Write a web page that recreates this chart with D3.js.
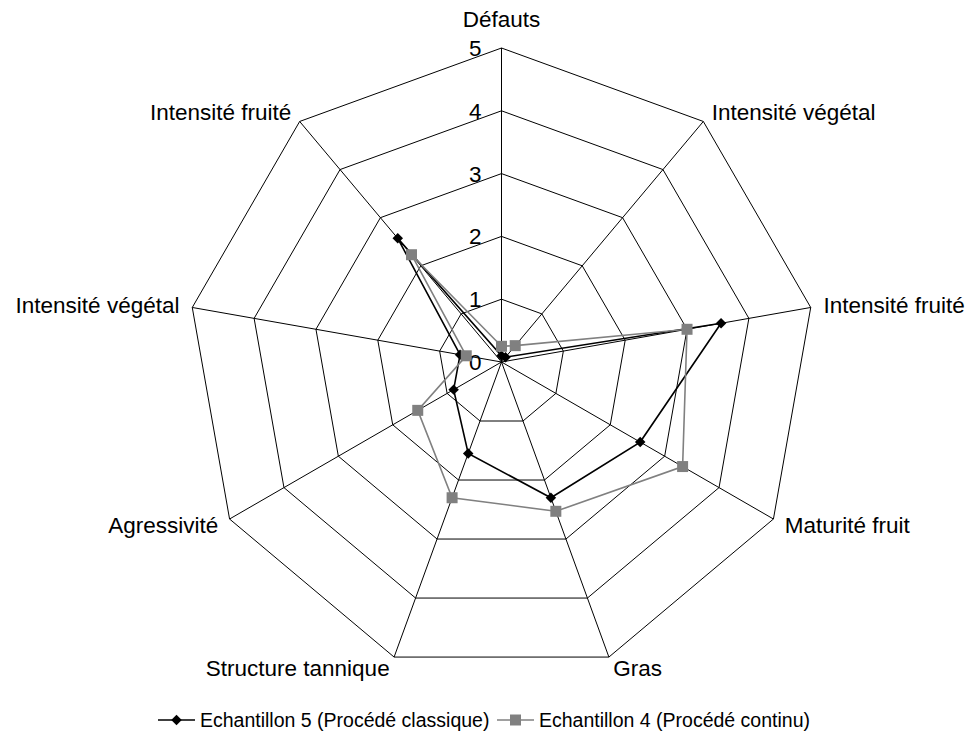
<!DOCTYPE html>
<html>
<head>
<meta charset="utf-8">
<script src="https://cdn.jsdelivr.net/npm/d3@7"></script>
<style>
  body { margin: 0; background: #fff; }
  text { font-family: "Liberation Sans", Arial, sans-serif; fill: #000; }
</style>
</head>
<body>
<script>
// axes of the radar, clockwise from the top
var axes = ['Défauts', 'Intensité végétal', 'Intensité fruité', 'Maturité fruit',
	'Gras', 'Structure tannique', 'Agressivité', 'Intensité végétal', 'Intensité fruité'];

var seriesNames = ['Echantillon 5 (Procédé classique)', 'Echantillon 4 (Procédé continu)'];

// values
var ech5 = [0.1, 0.1, 3.55, 2.55, 2.3, 1.55, 0.88, 0.67, 2.57];
var ech4 = [0.25, 0.34, 3.0, 3.33, 2.53, 2.3, 1.54, 0.57, 2.23];

var ticks = [0, 1, 2, 3, 4, 5];

var width = 973,
	height = 735;

var cx = 501.5, cy = 362;

var svg = d3.select('body')
	.append('svg')
	.attr('width', width)
	.attr('height', height);

var r = d3.scaleLinear().domain([0, 5]).range([0, 314]);

// angle per axis, 0 = top
var angle = d3.scaleLinear().domain([0, axes.length]).range([0, 2 * Math.PI]);

function pt(i, v) {
	var a = angle(i);
	return [cx + r(v) * Math.sin(a), cy - r(v) * Math.cos(a)];
}

var g = svg.append('g');

// rings
ticks.slice(1).forEach(function(t) {
	g.append('path')
		.attr('d', d3.line()(axes.map(function(d, i) { return pt(i, t); })) + 'Z')
		.attr('fill', 'none')
		.attr('stroke', '#000')
		.attr('stroke-width', 1);
});

// spokes
g.selectAll('line.spoke')
	.data(axes)
	.enter().append('line')
	.attr('class', 'spoke')
	.attr('x1', cx).attr('y1', cy)
	.attr('x2', function(d, i) { return pt(i, 5)[0]; })
	.attr('y2', function(d, i) { return pt(i, 5)[1]; })
	.attr('stroke', '#000')
	.attr('stroke-width', 1);

// tick labels along the top spoke
g.selectAll('text.tick')
	.data(ticks)
	.enter().append('text')
	.attr('class', 'tick')
	.attr('x', cx - 20)
	.attr('y', function(d) { return cy - r(d) + 8; })
	.attr('text-anchor', 'end')
	.style('font-size', '22.5px')
	.text(function(d) { return d; });

// axis labels
g.selectAll('text.axis')
	.data(axes)
	.enter().append('text')
	.attr('class', 'axis')
	.each(function(d, i) {
		var a = angle(i);
		var s = Math.sin(a), c = Math.cos(a);
		var p = pt(i, 5);
		var t = d3.select(this);
		if (i === 0) {
			t.attr('x', p[0]).attr('y', p[1] - 21).attr('text-anchor', 'middle');
		} else {
			t.attr('x', p[0] + s * 13)
				.attr('y', p[1] - c * 12)
				.attr('dy', '0.35em')
				.attr('text-anchor', s > 0 ? 'start' : 'end');
		}
	})
	.style('font-size', '22.5px')
	.text(function(d) { return d; });

var colors = ['#000', '#808080'];
var data = [ech5, ech4];

var radarLine = d3.line()
	.x(function(d, i) { return pt(i, d)[0]; })
	.y(function(d, i) { return pt(i, d)[1]; })
	.curve(d3.curveLinearClosed);

var diamond = d3.symbol().type(d3.symbolDiamond2).size(70);
var square = d3.symbol().type(d3.symbolSquare).size(121);
var shapes = [diamond, square];

data.forEach(function(vals, k) {
	var sg = svg.append('g');
	sg.append('path')
		.attr('d', radarLine(vals))
		.attr('fill', 'none')
		.attr('stroke', colors[k])
		.attr('stroke-width', 1.6);
	sg.selectAll('path.mark')
		.data(vals)
		.enter().append('path')
		.attr('class', 'mark')
		.attr('transform', function(d, i) { var p = pt(i, d); return 'translate(' + p[0] + ',' + p[1] + ')'; })
		.attr('d', shapes[k]())
		.attr('fill', colors[k]);
});

// legend
var legendX = [158, 497];
var legendY = 720;
seriesNames.forEach(function(name, k) {
	var lg = svg.append('g').attr('transform', 'translate(' + legendX[k] + ',' + legendY + ')');
	lg.append('line')
		.attr('x1', 0).attr('x2', 37)
		.attr('stroke', colors[k])
		.attr('stroke-width', 1.6);
	lg.append('path')
		.attr('transform', 'translate(18.5,0)')
		.attr('d', shapes[k]())
		.attr('fill', colors[k]);
	lg.append('text')
		.attr('x', 42)
		.attr('dy', '0.35em')
		.style('font-size', '19.5px')
		.text(name);
});
</script>
</body>
</html>
